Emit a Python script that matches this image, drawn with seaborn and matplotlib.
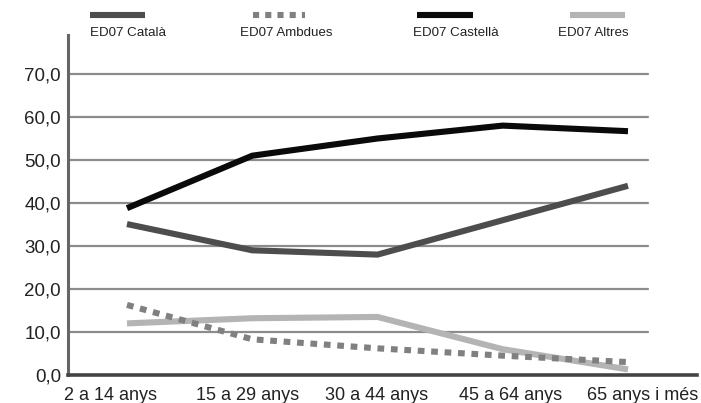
import matplotlib
matplotlib.use("Agg")
import matplotlib.pyplot as plt
import matplotlib.transforms as mtransforms
from matplotlib.lines import Line2D
import seaborn as sns
import pandas as pd

categories = ["2 a 14 anys", "15 a 29 anys", "30 a 44 anys", "45 a 64 anys", "65 anys i més"]
catala = [35.1, 29.0, 28.0, 36.0, 44.0]
ambdues = [16.3, 8.3, 6.2, 4.5, 3.0]
castella = [38.8, 51.0, 55.0, 58.0, 56.7]
altres = [12.0, 13.2, 13.5, 6.0, 1.3]
series_names = ["ED07 Català", "ED07 Ambdues", "ED07 Castellà", "ED07 Altres"]
yticks = [0, 10, 20, 30, 40, 50, 60, 70]

sns.set_style("white")
plt.rcParams['font.family'] = ['Liberation Sans', 'DejaVu Sans']

W, H = 701, 403
fig = plt.figure(figsize=(W / 100, H / 100), dpi=100)
ax = fig.add_axes([68 / W, (H - 375) / H, (697 - 68) / W, (375 - 35) / H])

xs = list(range(len(categories)))
styles = {
    "ED07 Català": dict(color="#4d4d4d", dashes=None),
    "ED07 Ambdues": dict(color="#808080", dashes=(1.1, 1.1)),
    "ED07 Castellà": dict(color="#0a0a0a", dashes=None),
    "ED07 Altres": dict(color="#b4b4b4", dashes=None),
}
data = {"ED07 Català": catala, "ED07 Ambdues": ambdues,
        "ED07 Castellà": castella, "ED07 Altres": altres}

# gridlines
for v in yticks[1:]:
    ax.axhline(v, xmin=0, xmax=(648 - 68) / (697 - 68), color="#8c8c8c", lw=1.6, zorder=1)

lw = 4.4
order = ["ED07 Castellà", "ED07 Català", "ED07 Altres", "ED07 Ambdues"]
for i, name in enumerate(order):
    df = pd.DataFrame({"x": xs, "y": data[name]})
    st = styles[name]
    sns.lineplot(data=df, x="x", y="y", ax=ax, color=st["color"], lw=lw, zorder=3 + i)
    line = ax.lines[-1]
    line.set_solid_capstyle("butt")
    line.set_solid_joinstyle("round")
    if st["dashes"] is not None:
        line.set_dashes(st["dashes"])
        line.set_dash_capstyle("butt")

ax.set_xlim(-59 / 125.25, (697 - 127) / 125.25)
ax.set_ylim(0, (375 - 35) / 4.3)
ax.set_yticks(yticks)
ax.set_yticklabels([f"{v:.1f}".replace(".", ",") for v in yticks], fontsize=13.5, color="#222222")
ax.set_xticks(xs)
ax.set_xticklabels(categories, fontsize=13, color="#222222")
ax.set_xlabel("")
ax.set_ylabel("")
ax.tick_params(axis="y", length=0, pad=5)
ax.tick_params(axis="x", length=0, pad=9)

# spread x labels as in the reference
label_shift_px = [-17, -5, -1, 8, 15]
for lab, dx in zip(ax.get_xticklabels(), label_shift_px):
    lab.set_transform(lab.get_transform() + mtransforms.ScaledTranslation(dx / 100, 0, fig.dpi_scale_trans))

for s in ["top", "right"]:
    ax.spines[s].set_visible(False)
ax.spines["left"].set_color("#666666")
ax.spines["left"].set_linewidth(2.2)
ax.spines["bottom"].set_color("#444444")
ax.spines["bottom"].set_linewidth(2.6)

# legend (handles above labels)
leg = [("ED07 Català", 90, 145, 90), ("ED07 Ambdues", 253, 305, 240),
       ("ED07 Castellà", 417, 473, 413), ("ED07 Altres", 570, 625, 558)]
for name, x0, x1, tx in leg:
    st = styles[name]
    ln = Line2D([x0 / W, x1 / W], [(H - 15) / H, (H - 15) / H], transform=fig.transFigure,
                color=st["color"], lw=4.4, solid_capstyle="butt")
    if st["dashes"] is not None:
        ln.set_dashes((1.0, 1.0))
        ln.set_dash_capstyle("butt")
    fig.add_artist(ln)
    fig.text(tx / W, (H - 33) / H, name, fontsize=9.6, color="#222222", va="center", ha="left")

fig.savefig("out.png", dpi=100)
